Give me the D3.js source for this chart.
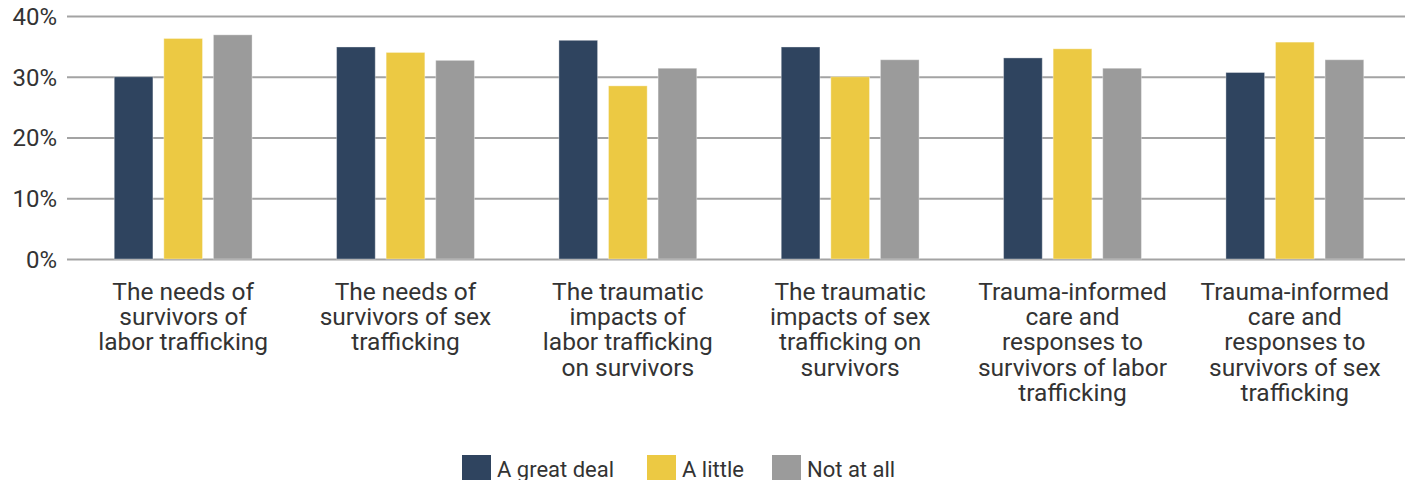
<!DOCTYPE html>
<html><head><meta charset="utf-8">
<script src="https://cdn.jsdelivr.net/npm/d3@7"></script>
<style>body{margin:0;background:#fff}svg{display:block}</style>
</head><body><svg id="c" width="1413" height="480"></svg>
<script>
const categories = [
  "The needs of|survivors of|labor trafficking",
  "The needs of|survivors of sex|trafficking",
  "The traumatic|impacts of|labor trafficking|on survivors",
  "The traumatic|impacts of sex|trafficking on|survivors",
  "Trauma-informed|care and|responses to|survivors of labor|trafficking",
  "Trauma-informed|care and|responses to|survivors of sex|trafficking"
];
const seriesNames = ["A great deal", "A little", "Not at all"];
const greatDeal = [30.0, 34.9, 36.0, 34.9, 33.1, 30.7];
const aLittle   = [36.3, 34.0, 28.5, 30.0, 34.6, 35.7];
const notAtAll  = [36.9, 32.7, 31.4, 32.8, 31.4, 32.8];
const yTicks = [0, 10, 20, 30, 40];
const colors = ["#2f445f", "#ecc943", "#9b9b9b"];

const series = [greatDeal, aLittle, notAtAll];
const svg = d3.select("#c");
const font = "Roboto, sans-serif";
const textColor = "#333333";

const x0 = d3.scaleBand().domain(d3.range(categories.length)).range([72, 1406]).paddingInner(0).paddingOuter(0);
const groupW = x0.bandwidth() * 0.62;
const x1 = d3.scaleBand().domain(d3.range(series.length)).range([0, groupW]).paddingInner(0.22).paddingOuter(0);
const y = d3.scaleLinear().domain([0, 40]).range([259, 16]);

// grid
const yAxis = d3.axisLeft(y).tickValues(yTicks).tickSize(-(1405 - 67)).tickFormat(d => d + "%");
const ga = svg.append("g").attr("transform", "translate(67,0)").call(yAxis);
ga.select(".domain").remove();
ga.selectAll(".tick line").attr("stroke", "#a3a3a3").attr("stroke-width", 2);
ga.selectAll(".tick text").attr("x", -10).attr("dy", "0.35em")
  .style("font-family", font).style("font-size", "24px").attr("fill", textColor);

// bars
const groups = svg.append("g").selectAll("g").data(categories).join("g")
  .attr("transform", (d, i) => `translate(${x0(i) + (x0.bandwidth() - groupW) / 2},0)`);
groups.selectAll("rect").data((d, i) => series.map((s, k) => ({k, v: s[i]}))).join("rect")
  .attr("x", d => x1(d.k)).attr("width", x1.bandwidth())
  .attr("y", d => y(d.v)).attr("height", d => y(0) - y(d.v))
  .attr("fill", d => colors[d.k]).attr("stroke", "#ffffff").attr("stroke-opacity", 0.35).attr("stroke-width", 1);

// category labels
const lab = svg.append("g").selectAll("text").data(categories).join("text")
  .attr("x", (d, i) => x0(i) + x0.bandwidth() / 2).attr("y", 300)
  .attr("text-anchor", "middle").style("font-family", font).style("font-size", "24.5px").attr("fill", textColor);
lab.selectAll("tspan").data(d => d.split("|")).join("tspan")
  .attr("x", function() { return this.parentNode.getAttribute("x"); })
  .attr("dy", (d, j) => j === 0 ? 0 : 25.2).text(d => d);

// legend
const legX = [462, 647, 772];
const leg = svg.append("g").selectAll("g").data(seriesNames).join("g")
  .attr("transform", (d, i) => `translate(${legX[i]},455)`);
leg.append("rect").attr("width", 29).attr("height", 29).attr("fill", (d, i) => colors[i]);
leg.append("text").attr("x", 35).attr("y", 22).text(d => d)
  .style("font-family", font).style("font-size", "22px").attr("fill", textColor);
</script></body></html>
